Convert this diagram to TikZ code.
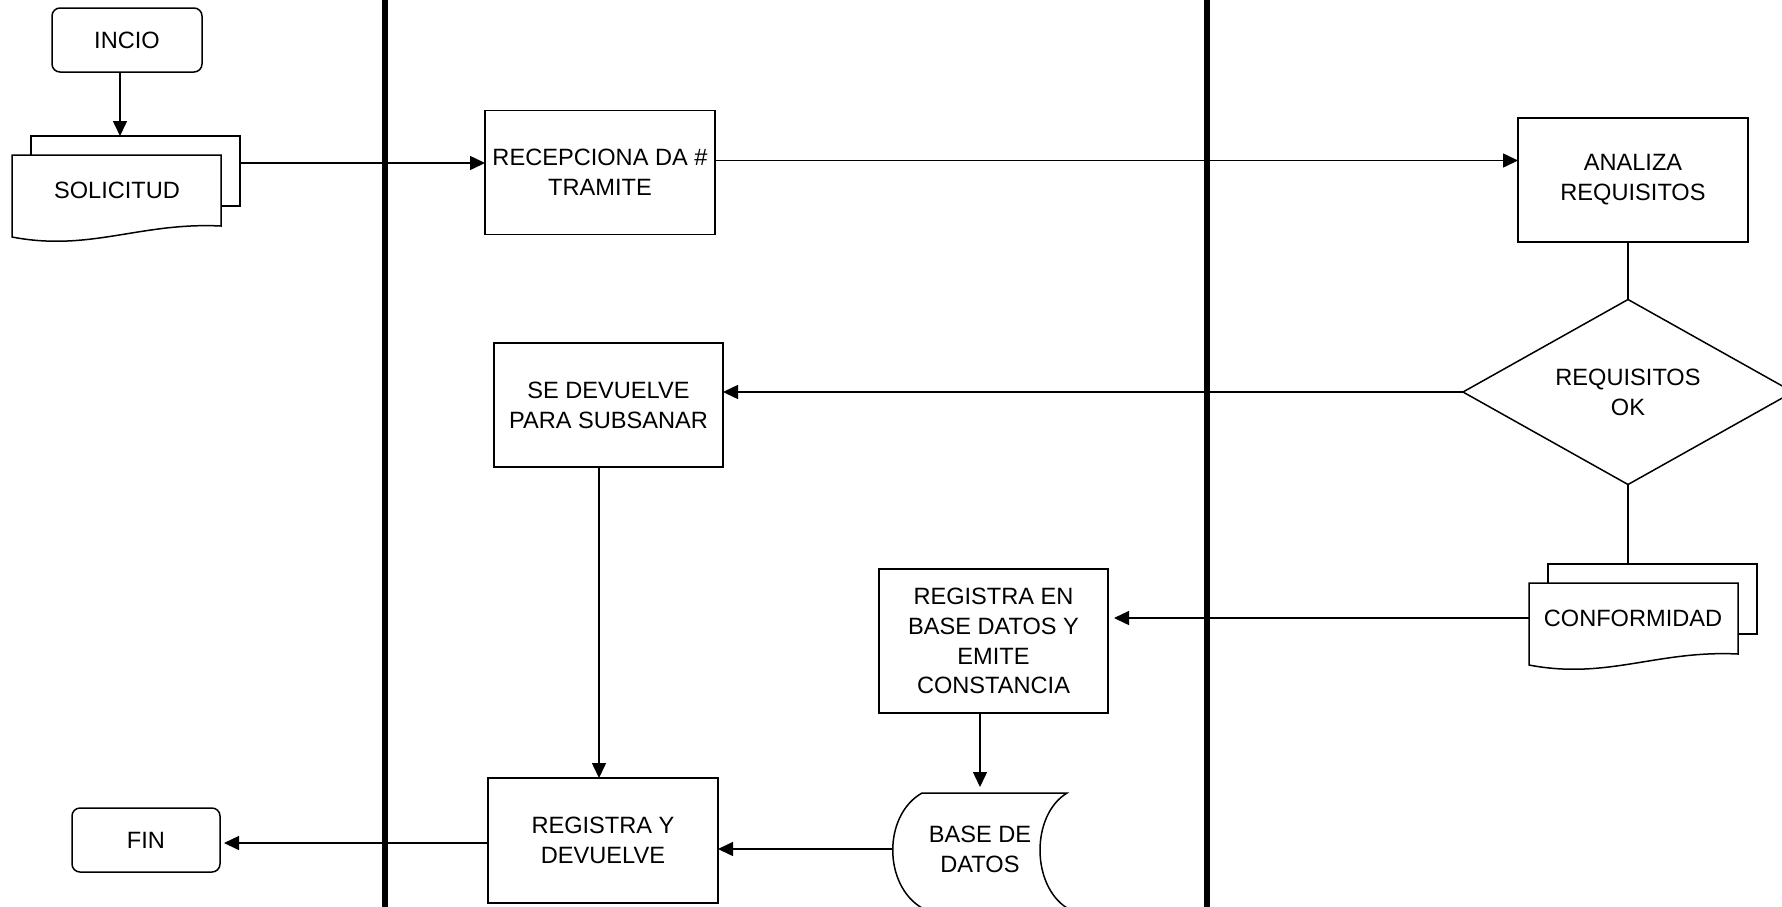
\documentclass[tikz,border=0pt]{standalone}
\usepackage{fontspec}
\setmainfont{Liberation Sans}
\usetikzlibrary{arrows.meta,shapes.geometric,calc}
\begin{document}
\begin{tikzpicture}[x=0.5pt,y=-0.5pt,
  every node/.style={font=\fontsize{11.8pt}{14.9pt}\selectfont, align=center},
  box/.style={draw, line width=0.75pt, rectangle, inner sep=0pt, outer sep=0pt},
  term/.style={box, rounded corners=4pt},
  ln/.style={line width=0.75pt},
  arr/.style={ln, -{Triangle[length=7.5pt,width=7pt]}},
  lane/.style={line width=2.75pt},
  sheet/.style={draw, line width=0.75pt, fill=white}
]
\useasboundingbox (0,0) rectangle (1782,906);
% swimlane separators
\draw[lane] (385,-5) -- (385,911);
\draw[lane] (1207,-5) -- (1207,911);

% INCIO
\node[term, minimum width=75pt, minimum height=32pt] (inc) at (127,40) {INCIO};

% SOLICITUD (multi document)
\draw[sheet] (31,136) rectangle (240,206);
\draw[sheet] (12,155) -- (221,155) -- (221,226) .. controls (140,222) and (90,252) .. (12,237) -- cycle;
\node (sol) at (117,190) {SOLICITUD};
\coordinate (soltop) at (120,136);
\coordinate (solout) at (240,163);
\draw[arr] ([xshift=-3.5pt]inc.south) -- (soltop);

% RECEPCIONA
\node[box, minimum width=115pt, minimum height=62pt] (rec) at (600,172.5) {RECEPCIONA DA \#\\TRAMITE};
\draw[arr] (solout) -- (solout -| rec.west);

% ANALIZA
\node[box, minimum width=115pt, minimum height=62pt] (ana) at (1633,180) {ANALIZA\\REQUISITOS};
\draw[arr] ([yshift=6pt]rec.east) -- ([yshift=6pt]rec.east -| ana.west);

% Decision
\node[diamond, draw, line width=0.75pt, minimum width=165pt, minimum height=92.5pt, aspect=1.8, inner sep=0pt, outer sep=0pt] (dia) at (1628,392) {REQUISITOS\\OK};
\draw[ln] (ana.south -| dia.north) -- (dia.north);

% SE DEVUELVE
\node[box, minimum width=114.5pt, minimum height=62pt] (sed) at (608.5,405) {SE DEVUELVE\\PARA SUBSANAR};
\draw[arr] (dia.west) -- (dia.west -| sed.east);

% CONFORMIDAD (multi document)
\begin{scope}[shift={(1517,428)}]
\draw[sheet] (31,136) rectangle (240,206);
\draw[sheet] (12,155) -- (221,155) -- (221,226) .. controls (140,222) and (90,252) .. (12,237) -- cycle;
\end{scope}
\node (conf) at (1633,618) {CONFORMIDAD};
\coordinate (conftop) at (1628,564);
\coordinate (confin) at (1529,618);
\draw[ln] (dia.south) -- (conftop);

% REGISTRA EN
\node[box, minimum width=114.5pt, minimum height=72pt] (ren) at (993.5,641) {REGISTRA EN\\BASE DATOS Y\\EMITE\\CONSTANCIA};
\draw[arr, shorten >=3pt] (confin) -- (confin -| ren.east);

% BASE DE DATOS (stored data)
\draw[ln] (922,793) -- (1067,793) .. controls (1031,815) and (1031,885) .. (1067,908) -- (922,908) .. controls (883,885) and (883,815) .. (922,793) -- cycle;
\node (db) at (980,849) {BASE DE\\DATOS};
\coordinate (dbtop) at (980,793);
\coordinate (dbin) at (893,849);
\draw[arr, shorten >=3pt] ([xshift=-6.75pt]ren.south) -- (dbtop);

% REGISTRA Y DEVUELVE
\node[box, minimum width=115pt, minimum height=62.5pt] (rey) at (603,840.5) {REGISTRA Y\\DEVUELVE};
\draw[arr] (dbin) -- (dbin -| rey.east);
\draw[arr] ([xshift=-4.75pt]sed.south) -- ([xshift=-4.75pt]sed.south |- rey.north);

% FIN
\node[term, minimum width=74pt, minimum height=32pt] (fin) at (146,840) {FIN};
\draw[arr, shorten >=2pt] ([yshift=-1.25pt]rey.west) -- ([yshift=-1.25pt]rey.west -| fin.east);
\end{tikzpicture}
\end{document}
